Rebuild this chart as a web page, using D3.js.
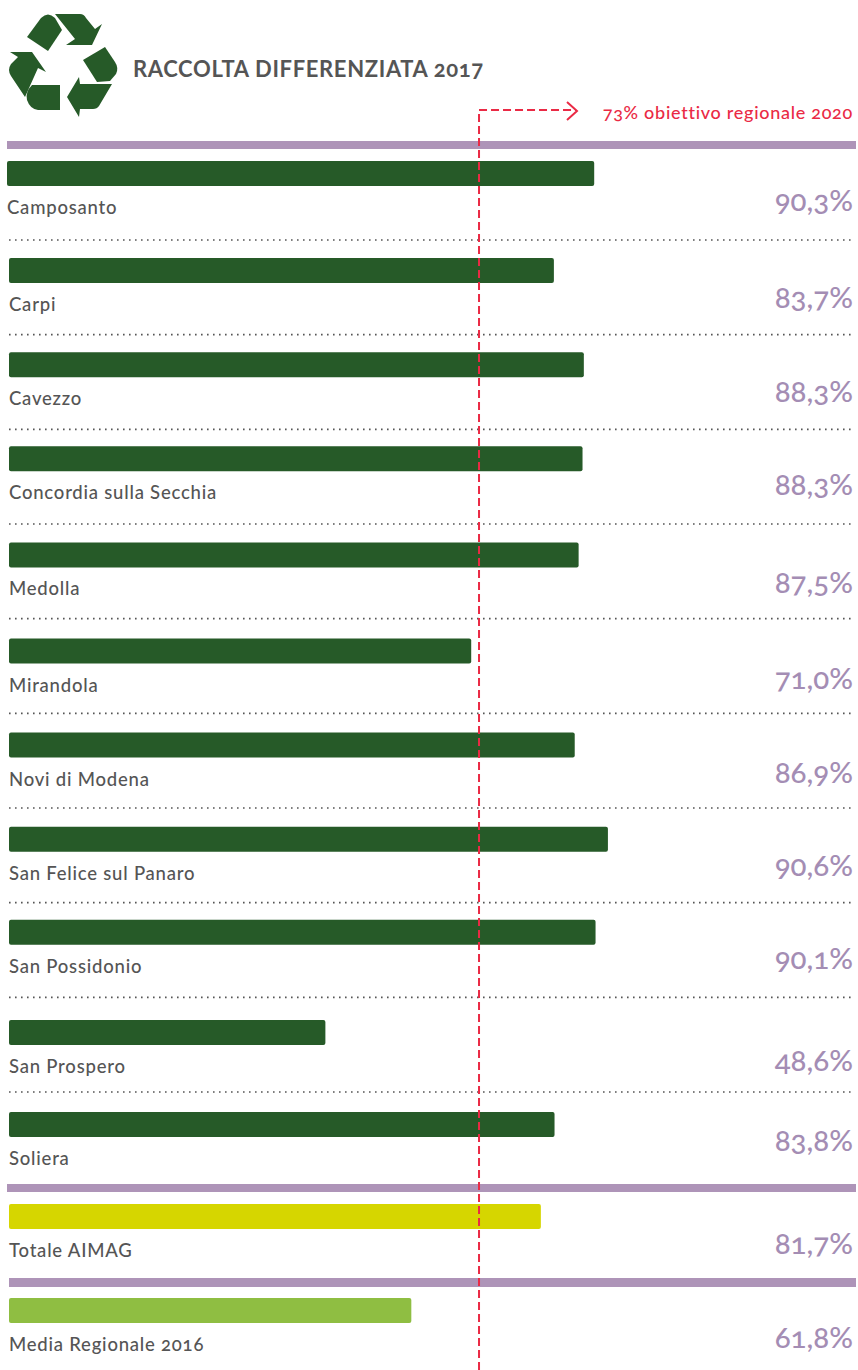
<!DOCTYPE html>
<html>

<head>
  <meta charset="UTF-8">
  <title>Raccolta differenziata 2017</title>
  <script src="https://cdn.jsdelivr.net/npm/d3@7"></script>
  <style>
    html, body {
      margin: 0;
      background: #fff;
    }
    svg {
      display: block;
      font-family: Lato, sans-serif;
      font-variant-numeric: oldstyle-nums;
    }
    .name {
      font-size: 18.5px;
      letter-spacing: 0.78px;
      font-weight: 500;
      fill: #555;
    }
    .pct {
      font-size: 29.5px;
      font-weight: 500;
      fill: #a48db4;
      text-anchor: end;
    }
  </style>
</head>

<body>
  <div id="chart"></div>
  <script>
    var comuni = ["Camposanto", "Carpi", "Cavezzo", "Concordia sulla Secchia", "Medolla", "Mirandola",
      "Novi di Modena", "San Felice sul Panaro", "San Possidonio", "San Prospero", "Soliera"];
    var comuniLabels = ["90,3%", "83,7%", "88,3%", "88,3%", "87,5%", "71,0%", "86,9%", "90,6%", "90,1%", "48,6%", "83,8%"];
    // bar lengths, San Felice is drawn longer than its label says
    var comuniBars = [90.2, 83.7, 88.3, 88.1, 87.5, 71.0, 86.9, 92.0, 90.1, 48.6, 83.8];

    var summary = ["Totale AIMAG", "Media Regionale 2016"];
    var summaryLabels = ["81,7%", "61,8%"];
    var summaryBars = [81.7, 61.8];
    var summaryColors = ["#d6d600", "#8fbe42"];

    var target = 72.2; // where the 73% line really sits on the bars
    var targetLabel = "73% obiettivo regionale 2020";
    var title = "RACCOLTA DIFFERENZIATA 2017";

    var width = 858;
    var height = 1370;
    var barHeight = 25;
    var green = "#265a28";
    var purple = "#ae94b8";
    var red = "#ea2a45";

    // the rows in the original are hand placed, these are small offsets from the even spacing
    var rowNudge = [0, 2, 1, 0, 1, 2, 1, 0, -2, 3, 0];
    var pctNudge = [0, 0, 0, -1, 1, 0, 0, -1, -1, 1, -11];

    var svg = d3.select("#chart").append("svg")
      .attr("width", width)
      .attr("height", height);

    /* Scale */
    var x = d3.scaleLinear().domain([0, 100]).range([9, 660]);
    var rowY = d3.scalePoint().domain(comuni).range([161, 1112]);
    var summaryY = d3.scalePoint().domain(summary).range([1204, 1298]);
    var dotY = d3.scalePoint().domain(d3.range(10)).range([240, 1092]);

    /* Recycling icon */
    var icon = svg.append("g").attr("fill", green);
    [
      "M27,37L41,18Q48,11 55,18L62,30L48,51Z",
      "M55,14L80,14Q84,14 86,18L95,29L102,24L92,45L66,45L75,39Z",
      "M83,60L105,47L115,62Q119,68 116,74L110,81L97,82Z",
      "M112,84L99,106Q97,109 93,109L80,109L79,117L67,97L79,77L80,84Z",
      "M60,85L60,110L38,110Q30,109 27,100Q25,92 32,85Z",
      "M10,52L32,52L46,72L38,68L25,97L11,76Q7,70 11,64L18,57Z"
    ].forEach(function (d) {
      icon.append("path").attr("d", d);
    });

    svg.append("text")
      .attr("x", 133)
      .attr("y", 77)
      .attr("font-size", 22)
      .attr("font-weight", 700)
      .attr("letter-spacing", 0.65)
      .attr("fill", "#555")
      .text(title);

    svg.append("text")
      .attr("x", 853)
      .attr("y", 119)
      .attr("font-size", 18)
      .attr("font-weight", 500)
      .attr("letter-spacing", 0.72)
      .attr("fill", red)
      .attr("text-anchor", "end")
      .text(targetLabel);

    /* Purple rules */
    svg.selectAll(".rule")
      .data([[7, 141, 8], [7, 1184, 8], [9, 1278, 9]])
      .enter().append("rect")
      .attr("class", "rule")
      .attr("x", function (d) { return d[0]; })
      .attr("y", function (d) { return d[1]; })
      .attr("width", function (d) { return 856 - d[0]; })
      .attr("height", function (d) { return d[2]; })
      .attr("fill", purple);

    /* Dotted separators */
    svg.selectAll(".dots")
      .data(dotY.domain())
      .enter().append("line")
      .attr("class", "dots")
      .attr("x1", 9)
      .attr("x2", 855)
      .attr("y1", function (d) { return dotY(d); })
      .attr("y2", function (d) { return dotY(d); })
      .attr("stroke", "#555")
      .attr("stroke-width", 1.6)
      .attr("stroke-dasharray", "1.6 4.4");

    /* Bars */
    function addRow(name, barValue, label, top, color, shift, pctTop) {
      svg.append("rect")
        .attr("x", x(0) + shift)
        .attr("y", top)
        .attr("width", x(barValue) - x(0))
        .attr("height", barHeight)
        .attr("rx", 2)
        .attr("fill", color);
      svg.append("text")
        .attr("class", "name")
        .attr("x", x(0) + shift)
        .attr("y", top + 53)
        .text(name);
      svg.append("text")
        .attr("class", "pct")
        .attr("x", 853)
        .attr("y", pctTop + 50)
        .text(label);
    }

    comuni.forEach(function (c, i) {
      var top = rowY(c) + rowNudge[i];
      addRow(c, comuniBars[i], comuniLabels[i], top, green, i === 0 ? -2 : 0, top + pctNudge[i]);
    });
    summary.forEach(function (s, i) {
      var top = summaryY(s);
      addRow(s, summaryBars[i], summaryLabels[i], top, summaryColors[i], 0, top);
    });

    /* Target line */
    var targetX = x(target);
    svg.append("path")
      .attr("d", "M" + targetX + "," + height + "V110H" + 576)
      .attr("fill", "none")
      .attr("stroke", red)
      .attr("stroke-width", 2)
      .attr("stroke-dasharray", "8 4");
    svg.append("path")
      .attr("d", "M567,102L577,111L567,120")
      .attr("fill", "none")
      .attr("stroke", red)
      .attr("stroke-width", 2);
  </script>
</body>

</html>
